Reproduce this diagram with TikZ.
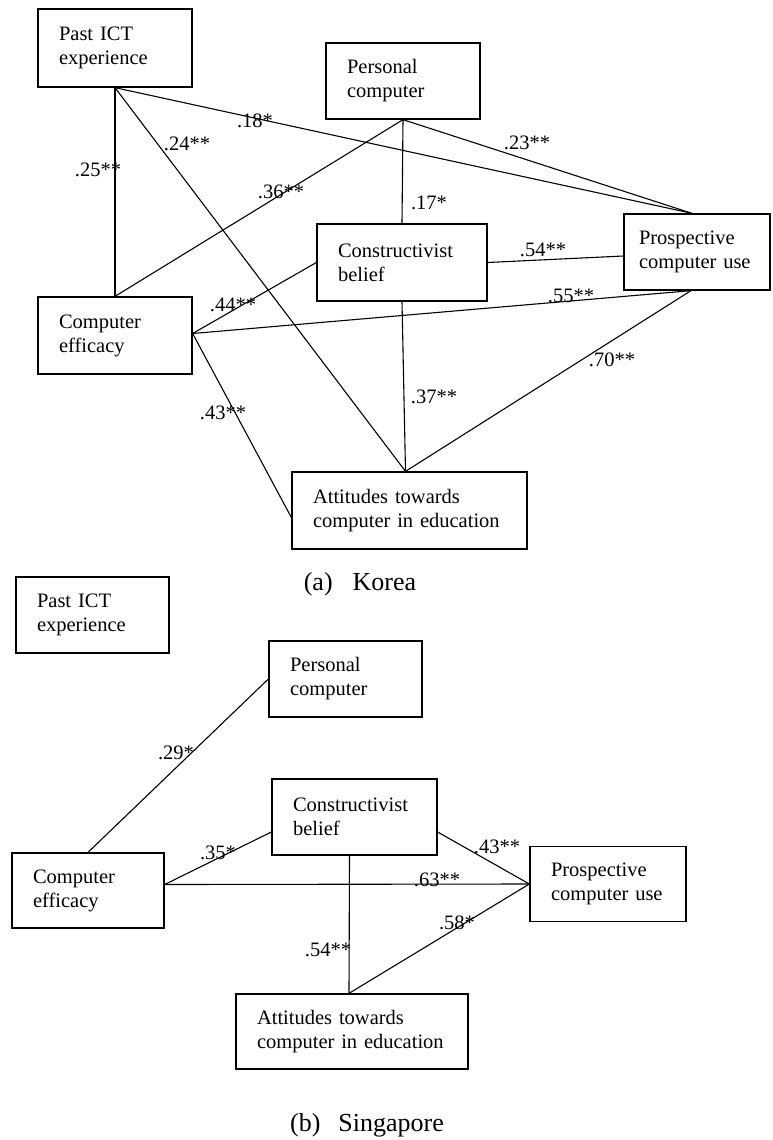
\documentclass[tikz,border=0pt]{standalone}
\usepackage{fontspec}
\setmainfont{Liberation Serif}
\usepackage{tikz}
\usetikzlibrary{arrows,%
                shapes,positioning}

\tikzset{box/.style={draw, line width=1.3pt, align=left, inner xsep=21pt, inner ysep=0pt,
                     font=\fontsize{20.5}{24}\selectfont},
         lbl/.style={inner sep=0pt, font=\fontsize{20.5}{24}\selectfont},
         capt/.style={inner sep=0pt, font=\fontsize{26}{30}\selectfont}}

\begin{document}
\begin{tikzpicture}[x=1pt,y=-1pt,line width=1.1pt]
\useasboundingbox (0,0) rectangle (772,1140);
% (a) Korea
\node[box, text width=112pt, minimum height=78pt] (past) at (115,48) {Past ICT\\experience};
\node[box, text width=112pt, minimum height=76pt] (pc) at (403,81) {Personal\\computer};
\node[box, text width=128pt, minimum height=77pt] (cb) at (402,262.5) {Constructivist\\belief};
\node[box, text width=116pt, inner xsep=15pt, minimum height=76pt] (pcu) at (697,252) {Prospective\\computer use};
\node[box, text width=112pt, minimum height=77pt] (ce) at (115,335.5) {Computer\\efficacy};
\node[box, text width=193pt, minimum height=77pt] (att) at (409.5,510.5) {Attitudes towards\\computer in education};

\draw (past.south) -- (ce.north);
\draw (past.south) -- ([xshift=-4pt]att.north);
\draw (past.south) -- ([xshift=-5pt]pcu.north);
\draw (pc.south) -- (ce.north);
\draw (pc.south) -- (cb.north);
\draw (pc.south) -- ([xshift=-5pt]pcu.north);
\draw (cb.west) -- ([yshift=2pt]ce.east);
\draw (cb.east) -- ([yshift=-4pt]pcu.west);
\draw ([yshift=2pt]ce.east) -- ([xshift=-6pt]pcu.south);
\draw (cb.south) -- ([xshift=-4pt]att.north);
\draw ([xshift=-6pt]pcu.south) -- ([xshift=-4pt]att.north);
\draw ([yshift=2pt]ce.east) -- ([yshift=-7pt]att.west);

\node[lbl] (l1) at (98,170) {.25**};
\node[lbl] (l2) at (187,144) {.24**};
\node[lbl] (l3) at (255,121) {.18*};
\node[lbl] (l4) at (281,192) {.36**};
\node[lbl] (l5) at (429,203) {.17*};
\node[lbl] (l6) at (527,143) {.23**};
\node[lbl] (l7) at (543,250) {.54**};
\node[lbl] (l8) at (233,305) {.44**};
\node[lbl] (l9) at (571,296) {.55**};
\node[lbl] (l10) at (612,360) {.70**};
\node[lbl] (l11) at (434,397) {.37**};
\node[lbl] (l12) at (223,413) {.43**};

\node[capt] (capa) at (360,584) {(a)\hspace{20pt}Korea};

% (b) Singapore
\node[box, text width=111pt, minimum height=76pt] (bpast) at (92.5,615) {Past ICT\\experience};
\node[box, text width=111pt, minimum height=76pt] (bpc) at (345.5,679) {Personal\\computer};
\node[box, text width=123pt, minimum height=76pt] (bcb) at (354.5,817) {Constructivist\\belief};
\node[box, text width=110pt, minimum height=75pt] (bce) at (88,890.5) {Computer\\efficacy};
\node[box, text width=114pt, minimum height=75pt] (bpcu) at (608,884) {Prospective\\computer use};
\node[box, text width=190pt, minimum height=75pt] (batt) at (352,1031.5) {Attitudes towards\\computer in education};

\draw (bce.north) -- (bpc.west);
\draw ([yshift=6pt]bce.east) -- ([yshift=-15pt]bcb.west);
\draw ([yshift=6pt]bce.east) -- (bpcu.west);
\draw ([yshift=-15pt]bcb.east) -- (bpcu.west);
\draw ([xshift=-5pt]bcb.south) -- ([xshift=-3pt]batt.north);
\draw (bpcu.west) -- ([xshift=-3pt]batt.north);

\node[lbl] (m1) at (176,753) {.29*};
\node[lbl] (m2) at (218,853) {.35*};
\node[lbl] (m3) at (437,880) {.63**};
\node[lbl] (m4) at (497,847) {.43**};
\node[lbl] (m5) at (328,950) {.54**};
\node[lbl] (m6) at (457,923) {.58*};

\node[capt] (capb) at (367,1125) {(b)\hspace{18pt}Singapore};
\end{tikzpicture}
\end{document}
